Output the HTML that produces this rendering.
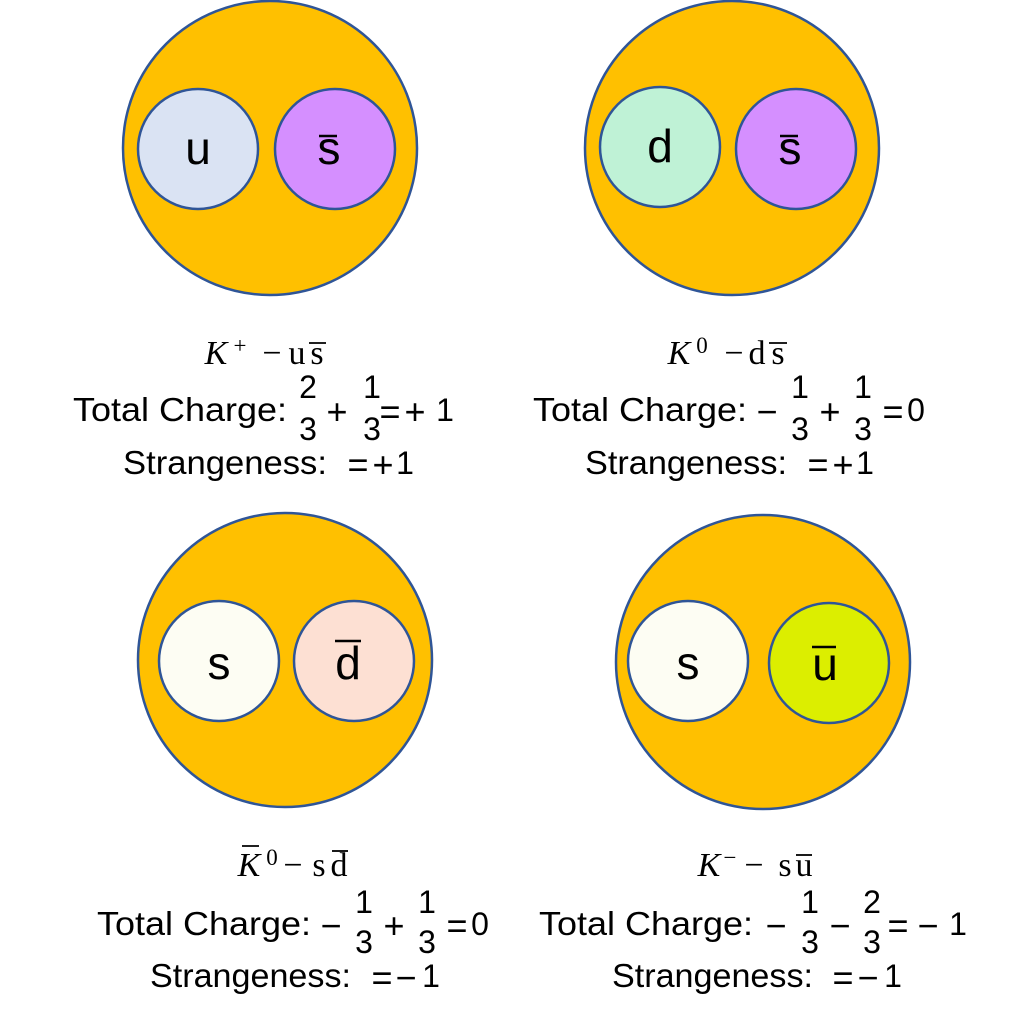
<!DOCTYPE html>
<html><head><meta charset="utf-8"><style>
html,body{margin:0;padding:0;background:#fff;}
svg{display:block}
.t{font-family:"Liberation Sans",sans-serif;font-size:33px;fill:#000}
.s{font-family:"Liberation Sans",sans-serif;font-size:36px;fill:#000;text-anchor:middle}
.d{font-family:"Liberation Sans",sans-serif;font-size:32px;fill:#000;text-anchor:middle}
.k{font-family:"Liberation Serif",serif;font-size:34px;font-style:italic;fill:#000;text-anchor:middle}
.h{font-family:"Liberation Serif",serif;font-size:34px;fill:#000;text-anchor:middle}
.p{font-family:"Liberation Serif",serif;font-size:23px;fill:#000;text-anchor:middle}
.q{font-family:"Liberation Sans",sans-serif;font-size:46px;fill:#000;text-anchor:middle}
</style></head><body>
<svg width="1024" height="1021" viewBox="0 0 1024 1021">
<g stroke="#2f5597" stroke-width="2.5">
<circle cx="270" cy="148" r="147" fill="#ffc000"/>
<circle cx="732" cy="148" r="147" fill="#ffc000"/>
<circle cx="285" cy="660" r="147" fill="#ffc000"/>
<circle cx="763" cy="662" r="147" fill="#ffc000"/>
<circle cx="198" cy="149" r="60" fill="#dae3f3"/>
<circle cx="335" cy="149" r="60" fill="#d58fff"/>
<circle cx="660" cy="147" r="60" fill="#bff2d6"/>
<circle cx="796" cy="149" r="60" fill="#d58fff"/>
<circle cx="219" cy="661" r="60" fill="#fdfdf3"/>
<circle cx="354" cy="661" r="60" fill="#fde0d3"/>
<circle cx="688" cy="661" r="60" fill="#fdfdf3"/>
<circle cx="829" cy="663" r="60" fill="#dcee00"/>
</g>
<g stroke="#000" stroke-width="2.5">
<line x1="319" y1="136" x2="337" y2="136"/>
<line x1="780" y1="136" x2="798" y2="136"/>
<line x1="335" y1="641" x2="361" y2="641"/>
<line x1="812" y1="647" x2="836" y2="647"/>
</g>
<text class="q" x="198" y="164">u</text>
<text class="q" x="329" y="164">s</text>
<text class="q" x="660" y="162">d</text>
<text class="q" x="790" y="164">s</text>
<text class="q" x="219" y="679">s</text>
<text class="q" x="348" y="679">d</text>
<text class="q" x="688" y="679">s</text>
<text class="q" x="825" y="680">u</text>

<!-- headings -->
<g stroke="#000" stroke-width="1.8">
<line x1="309" y1="343" x2="326" y2="343"/>
<line x1="769" y1="343" x2="787" y2="343"/>
<line x1="242" y1="846" x2="259" y2="846"/>
<line x1="332" y1="851" x2="348" y2="851"/>
<line x1="796" y1="855" x2="812" y2="855"/>
</g>
<text class="k" x="216" y="364">K</text><text class="p" x="240" y="353">+</text>
<text class="h" x="272" y="364">−</text><text class="h" x="297" y="364">u</text><text class="h" x="317" y="364">s</text>

<text class="k" x="679" y="364">K</text><text class="p" x="702" y="353">0</text>
<text class="h" x="734" y="364">−</text><text class="h" x="757" y="364">d</text><text class="h" x="778" y="364">s</text>

<text class="k" x="249" y="876">K</text><text class="p" x="272" y="865">0</text>
<text class="h" x="293" y="876">−</text><text class="h" x="319" y="876">s</text><text class="h" x="339" y="876">d</text>

<text class="k" x="709" y="876">K</text><text class="p" x="730" y="865">−</text>
<text class="h" x="754" y="876">−</text><text class="h" x="785" y="876">s</text><text class="h" x="804" y="876">u</text>

<!-- top-left -->
<text class="t" x="73" y="421" textLength="214" lengthAdjust="spacingAndGlyphs">Total Charge:</text>
<text class="d" x="308" y="398">2</text><text class="d" x="308" y="440">3</text>
<text class="s" x="337" y="424">+</text>
<text class="d" x="372" y="398">1</text><text class="d" x="372" y="440">3</text>
<text class="s" x="390" y="424">=</text><text class="s" x="415" y="424">+</text><text class="d" x="445" y="421">1</text>
<text class="t" x="123" y="474" textLength="204" lengthAdjust="spacingAndGlyphs">Strangeness:</text>
<text class="s" x="358" y="477">=</text><text class="s" x="383" y="477">+</text><text class="d" x="405" y="474">1</text>

<!-- top-right -->
<text class="t" x="533" y="421" textLength="214" lengthAdjust="spacingAndGlyphs">Total Charge:</text>
<text class="s" x="767" y="424">−</text>
<text class="d" x="800" y="398">1</text><text class="d" x="800" y="440">3</text>
<text class="s" x="830" y="424">+</text>
<text class="d" x="863" y="398">1</text><text class="d" x="863" y="440">3</text>
<text class="s" x="893" y="424">=</text><text class="d" x="916" y="421">0</text>
<text class="t" x="585" y="474" textLength="202" lengthAdjust="spacingAndGlyphs">Strangeness:</text>
<text class="s" x="818" y="477">=</text><text class="s" x="843" y="477">+</text><text class="d" x="865" y="474">1</text>

<!-- bottom-left -->
<text class="t" x="97" y="935" textLength="214" lengthAdjust="spacingAndGlyphs">Total Charge:</text>
<text class="s" x="331" y="938">−</text>
<text class="d" x="364" y="913">1</text><text class="d" x="364" y="953">3</text>
<text class="s" x="394" y="938">+</text>
<text class="d" x="427" y="913">1</text><text class="d" x="427" y="953">3</text>
<text class="s" x="457" y="938">=</text><text class="d" x="480" y="935">0</text>
<text class="t" x="150" y="987" textLength="201" lengthAdjust="spacingAndGlyphs">Strangeness:</text>
<text class="s" x="382" y="990">=</text><text class="s" x="406" y="990">−</text><text class="d" x="431" y="987">1</text>

<!-- bottom-right -->
<text class="t" x="539" y="935" textLength="214" lengthAdjust="spacingAndGlyphs">Total Charge:</text>
<text class="s" x="776" y="938">−</text>
<text class="d" x="810" y="913">1</text><text class="d" x="810" y="953">3</text>
<text class="s" x="840" y="938">−</text>
<text class="d" x="872" y="913">2</text><text class="d" x="872" y="953">3</text>
<text class="s" x="898" y="938">=</text><text class="s" x="928" y="938">−</text><text class="d" x="958" y="935">1</text>
<text class="t" x="612" y="987" textLength="201" lengthAdjust="spacingAndGlyphs">Strangeness:</text>
<text class="s" x="843" y="990">=</text><text class="s" x="868" y="990">−</text><text class="d" x="893" y="987">1</text>
</svg>
</body></html>
